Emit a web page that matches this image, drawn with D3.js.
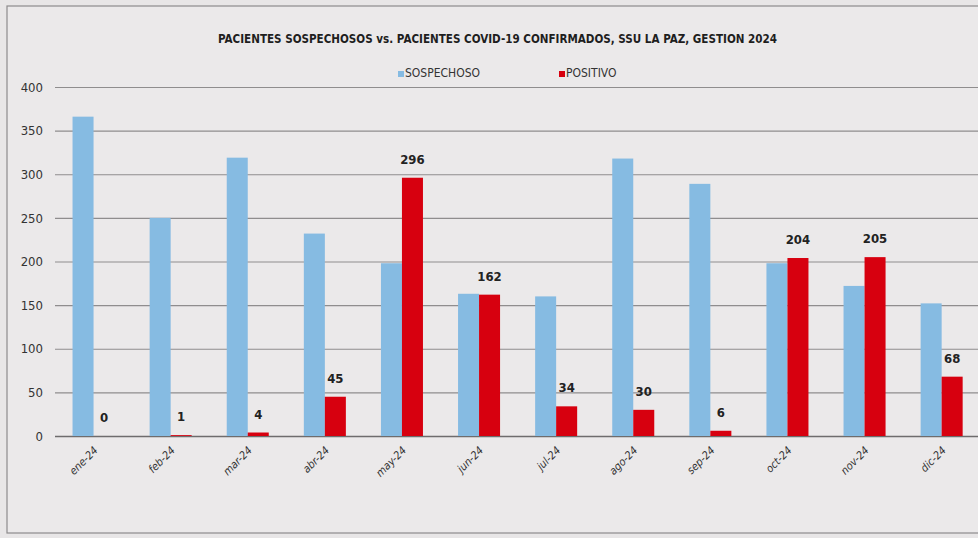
<!DOCTYPE html>
<html>
<head>
<meta charset="utf-8">
<script src="https://cdn.jsdelivr.net/npm/d3@7"></script>
<style>
  body { margin: 0; background: #e8e6e7; }
  svg { display: block; }
  text { font-family: "Liberation Sans Narrow", "DejaVu Sans Condensed", "Liberation Sans", sans-serif; }
</style>
</head>
<body>
<svg width="978" height="538"></svg>
<script>
const svg_width = 978;
const svg_height = 538;

// months on the x axis
const months = ["ene-24", "feb-24", "mar-24", "abr-24", "may-24", "jun-24",
  "jul-24", "ago-24", "sep-24", "oct-24", "nov-24", "dic-24"];
// suspected patients
const sospechoso = [366, 250, 319, 232, 198, 163, 160, 318, 289, 198, 172, 152];
// confirmed positives (data labels)
const positivo = [0, 1, 4, 45, 296, 162, 34, 30, 6, 204, 205, 68];
const y_ticks = [0, 50, 100, 150, 200, 250, 300, 350, 400];

const blue = "#86bbe2";
const red = "#d7000f";

const svg = d3.select("svg");

// frame of the chart area
svg.append("rect")
  .attr("x", 7).attr("y", 6)
  .attr("width", svg_width + 10).attr("height", 527)
  .attr("fill", "#ebe9ea")
  .attr("stroke", "#8d8b8c")
  .attr("stroke-width", 1.2);

const plot_left = 55;
const band = 77.1;
const x = d3.scaleBand()
  .domain(months)
  .range([plot_left, plot_left + band * months.length])
  .paddingInner(0.455)
  .paddingOuter(0.2275);

const y = d3.scaleLinear().domain([0, 400]).range([436, 87]);

// gridlines + y labels
const y_axis = svg.append("g")
  .attr("transform", `translate(${plot_left},0)`)
  .call(d3.axisLeft(y).tickValues(y_ticks).tickSize(-(svg_width - plot_left)).tickPadding(12));
y_axis.select(".domain").remove();
y_axis.selectAll(".tick line")
  .attr("stroke", d => d === 0 ? "#6e6c6d" : "#8f8d8e")
  .attr("stroke-width", d => d === 0 ? 1.6 : 1.2);
y_axis.selectAll(".tick text")
  .attr("fill", "#333")
  .attr("font-size", 13);

// bars, each month = blue then red side by side
const bar_w = x.bandwidth() / 2;
const groups = svg.append("g").selectAll("g")
  .data(months)
  .join("g")
  .attr("transform", d => `translate(${x(d)},0)`);

groups.append("rect")
  .attr("x", 0)
  .attr("y", (d, i) => y(sospechoso[i]))
  .attr("width", bar_w)
  .attr("height", (d, i) => y(0) - y(sospechoso[i]))
  .attr("fill", blue);

groups.append("rect")
  .attr("x", bar_w)
  .attr("y", (d, i) => y(positivo[i]))
  .attr("width", bar_w)
  .attr("height", (d, i) => y(0) - y(positivo[i]))
  .attr("fill", red);

// data labels on the red bars
groups.append("text")
  .attr("x", bar_w * 1.5)
  .attr("y", (d, i) => y(positivo[i]) - 14)
  .attr("text-anchor", "middle")
  .attr("font-size", 13)
  .attr("font-weight", "bold")
  .attr("fill", "#222")
  .text((d, i) => positivo[i]);

// rotated month labels
svg.append("g").selectAll("text")
  .data(months)
  .join("text")
  .attr("transform", d => `translate(${x(d) + x.bandwidth() / 2 + 5},${451}) rotate(-45)`)
  .attr("text-anchor", "end")
  .attr("font-size", 11)
  .attr("font-style", "italic")
  .attr("fill", "#333")
  .text(d => d);

// title, squeezed to the narrow width of the original font
svg.append("text")
  .attr("x", 218).attr("y", 43)
  .attr("font-size", 13)
  .attr("font-weight", "bold")
  .attr("fill", "#1e1e1e")
  .attr("textLength", 559)
  .attr("lengthAdjust", "spacingAndGlyphs")
  .text("PACIENTES SOSPECHOSOS vs. PACIENTES COVID-19 CONFIRMADOS, SSU LA PAZ, GESTION 2024");

// legend
const legend_items = [
  { name: "SOSPECHOSO", color: blue, x: 398 },
  { name: "POSITIVO", color: red, x: 559 }
];
const legend = svg.append("g").selectAll("g")
  .data(legend_items)
  .join("g")
  .attr("transform", d => `translate(${d.x},77)`);
legend.append("rect")
  .attr("x", 0).attr("y", -6)
  .attr("width", 6).attr("height", 6)
  .attr("fill", d => d.color);
legend.append("text")
  .attr("x", 7).attr("y", 0)
  .attr("font-size", 12)
  .attr("fill", "#333")
  .text(d => d.name);
</script>
</body>
</html>
